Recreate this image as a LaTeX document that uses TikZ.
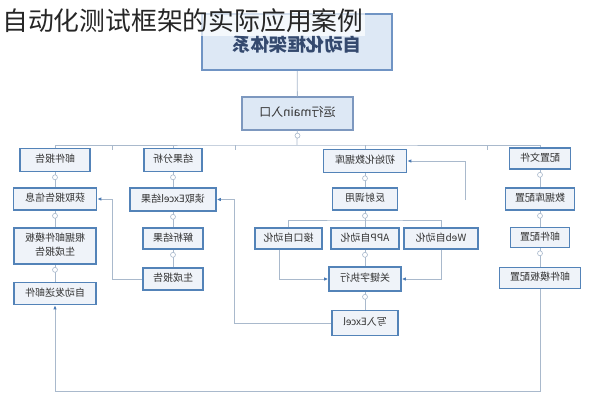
\documentclass[tikz,border=0pt]{standalone}
\usepackage{fontspec}
\setmainfont{Noto Sans CJK SC}
\usetikzlibrary{arrows.meta,positioning}
\definecolor{boxblue}{HTML}{5383B8}
\definecolor{boxfill}{HTML}{EFF3F9}
\definecolor{headfill}{HTML}{DDE8F5}
\definecolor{headline}{HTML}{7094C4}
\definecolor{headtext}{HTML}{34496E}
\definecolor{entryline}{HTML}{7D98BF}
\definecolor{linkgray}{HTML}{A9B9CC}
\definecolor{tipblue}{HTML}{4A7AB4}
\definecolor{txt}{HTML}{333333}
\newcommand{\mirtxt}[1]{\reflectbox{\begin{tabular}{@{}c@{}}#1\end{tabular}}}

\begin{document}
\begin{tikzpicture}[x=1pt,y=-1pt]
  \tikzstyle{box}=[rectangle, draw=boxblue, line width=1.6pt, fill=boxfill, text=txt, font=\fontsize{10}{14}\selectfont, minimum height=22pt, inner sep=1pt]
  \tikzstyle{head}=[rectangle, draw=headline, line width=2pt, fill=headfill, minimum width=190pt, minimum height=56pt]
  \tikzstyle{headlbl}=[text=headtext, font=\fontsize{18.5}{22}\selectfont\bfseries, inner sep=0pt]
  \tikzstyle{entrybox}=[rectangle, draw=entryline, line width=1.2pt, fill=headfill, text=txt, font=\fontsize{12}{14}\selectfont, minimum width=111pt, minimum height=33pt]
  \tikzstyle{link}=[draw=linkgray, line width=0.8pt]
  \tikzstyle{flow}=[link, -{Latex[length=4pt,width=3.5pt,color=tipblue]}]
  \tikzstyle{knob}=[circle, draw=linkgray, fill=white, inner sep=0pt, minimum size=5pt, line width=0.6pt]

  \useasboundingbox (0,0) rectangle (594,400);

  % top
  \node[head] (head) at (297,42) {};
  \node[headlbl] (headtxt) at ([yshift=-5pt]head.center) {\mirtxt{自动化框架体系}};
  \node[anchor=west, font=\fontsize{25.8}{30}\selectfont, text=black!85, fill=white, fill opacity=0.7, text opacity=1, inner xsep=2pt, inner ysep=3pt] (title) at (0,21) {自动化测试框架的实际应用案例};
  \node[entrybox] (entry) at (297.5,113.5) {\mirtxt{运行main入口}};

  % mail column
  \node[box, minimum width=70pt, minimum height=23pt] (mailrep) at (55,160) {\mirtxt{邮件报告}};
  \node[box, minimum width=83pt] (getinfo) at (55,199) {\mirtxt{获取报告信息}};
  \node[box, minimum width=82pt, minimum height=36pt] (buildrep) at (55,246) {\mirtxt{根据邮件模板\\生成报告}};
  \node[box, minimum width=82pt] (sendmail) at (55,293.5) {\mirtxt{自动发送邮件}};

  % result column
  \node[box, minimum width=58pt, minimum height=23pt] (resan) at (173,160) {\mirtxt{结果分析}};
  \node[box, minimum width=86pt, minimum height=23pt] (readxl) at (173,199.5) {\mirtxt{读取Excel结果}};
  \node[box, minimum width=60pt, minimum height=21pt] (parse) at (173,238.5) {\mirtxt{解析结果}};
  \node[box, minimum width=60pt] (genrep) at (173,279) {\mirtxt{生成报告}};

  % run column
  \node[box, minimum width=83pt, minimum height=23pt] (initdb) at (365,161) {\mirtxt{初始化数据库}};
  \node[box, minimum width=65pt] (reflect) at (365,199) {\mirtxt{反射调用}};
  \node[box, minimum width=67pt, minimum height=21pt] (api) at (288.5,238.5) {\mirtxt{接口自动化}};
  \node[box, minimum width=68pt, minimum height=21pt] (app) at (365,238.5) {\mirtxt{APP自动化}};
  \node[box, minimum width=74pt, minimum height=21pt] (web) at (441,238.5) {\mirtxt{Web自动化}};
  \node[box, minimum width=72pt, minimum height=24pt] (kw) at (365,279) {\mirtxt{关键字执行}};
  \node[box, minimum width=66pt, minimum height=25pt] (writexl) at (365,323) {\mirtxt{写入Excel}};

  % config column
  \node[box, minimum width=61pt, minimum height=21pt] (cfgfile) at (540,158.5) {\mirtxt{配置文件}};
  \node[box, minimum width=69pt] (dbcfg) at (540,199) {\mirtxt{数据库配置}};
  \node[box, minimum width=59pt, minimum height=20pt] (mailcfg) at (540,237.5) {\mirtxt{邮件配置}};
  \node[box, minimum width=81pt, minimum height=21pt] (tplcfg) at (540,278) {\mirtxt{邮件模板配置}};

  \coordinate (bus) at (297,145);
  \coordinate (fan) at (365,220);
  \coordinate (dbend) at (465,200);

  % tree links
  \path (head) edge [link] (entry)
        (entry) edge [link] (bus);
  \draw[link] (mailrep.north) |- (bus) -| (cfgfile.north);
  \draw[link] (resan.north) -- (resan.north |- bus);
  \draw[link] (initdb.north) -- (initdb.north |- bus);
  \foreach \tx in {112,235,487}
    \draw[link] (\tx,145) -- ++(0,5);

  \path (mailrep) edge [link] (getinfo)
        (getinfo) edge [link] (buildrep)
        (buildrep) edge [link] (sendmail);
  \path (resan) edge [link] (readxl)
        (readxl) edge [link] (parse)
        (parse) edge [link] (genrep);
  \path (initdb) edge [link] (reflect)
        (reflect) edge [link] (app)
        (app) edge [link] (kw)
        (kw) edge [link] (writexl);
  \draw[link] (api.north) |- (fan) -| (web.north);
  \path (cfgfile) edge [link] (dbcfg)
        (dbcfg) edge [link] (mailcfg)
        (mailcfg) edge [link] (tplcfg);

  % flow arrows
  \draw[flow] (genrep.west) -- ++(-30,0) |- (getinfo.east);
  \draw[flow] (writexl.west) -- ++(-97,0) |- (readxl.east);
  \draw[flow] (dbend) |- (initdb.east);
  \draw[flow] ([xshift=-9pt]api.south) |- (kw.west);
  \draw[flow] (web.south) |- (kw.east);
  \draw[flow] (tplcfg.south) -- ++(0,102) -| (sendmail.south);

  % collapse knobs
  \foreach \n in {entry,mailrep,getinfo,buildrep,resan,readxl,parse,initdb,reflect,app,kw,cfgfile,dbcfg,mailcfg}
    \node[knob] (k\n) at ([yshift=-5pt]\n.south) {};
\end{tikzpicture}
\end{document}
